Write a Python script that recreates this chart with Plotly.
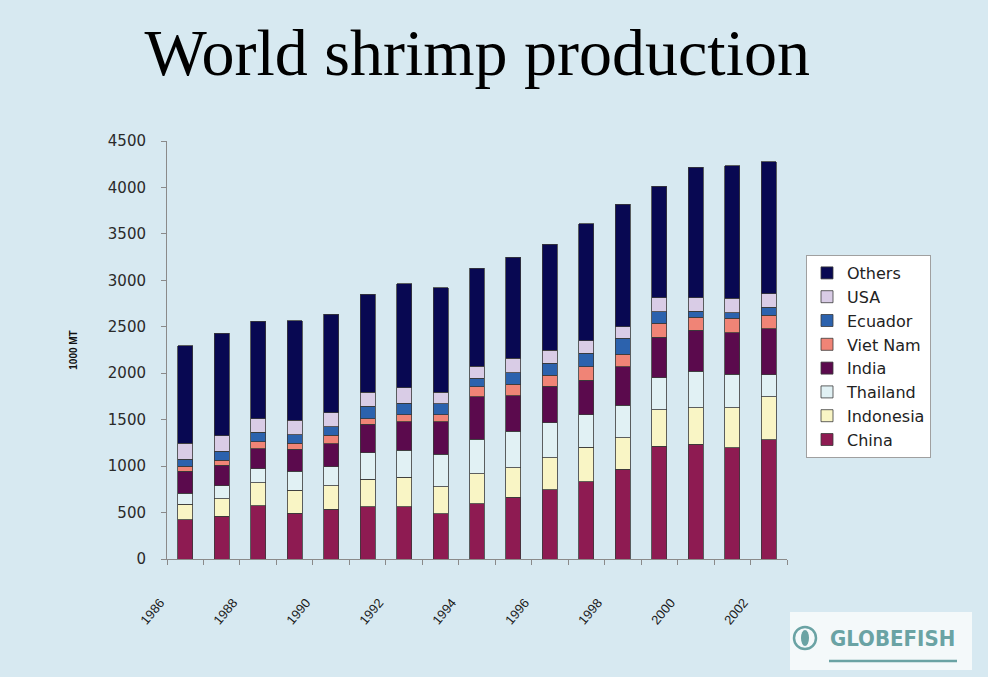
import plotly.graph_objects as go

years = list(range(1986, 2003))
china     = [425, 460, 575, 495, 535, 560, 565, 485, 595, 665, 745, 830, 965, 1215, 1235, 1200, 1285]
indonesia = [165, 190, 245, 245, 255, 300, 315, 295, 325, 320, 345, 375, 340, 390, 395, 430, 460]
thailand  = [120, 140, 150, 205, 205, 285, 290, 350, 370, 390, 375, 350, 350, 345, 390, 360, 240]
india     = [235, 220, 215, 235, 245, 305, 305, 350, 455, 380, 395, 370, 415, 440, 440, 445, 495]
vietnam   = [55, 55, 80, 65, 90, 60, 80, 75, 110, 125, 120, 145, 135, 150, 145, 155, 145]
ecuador   = [75, 95, 100, 95, 95, 135, 120, 115, 90, 125, 125, 145, 170, 120, 60, 60, 85]
usa       = [170, 165, 145, 155, 150, 150, 170, 125, 130, 155, 145, 135, 125, 150, 150, 155, 145]
others    = [1050, 1105, 1050, 1070, 1060, 1055, 1120, 1125, 1055, 1090, 1140, 1260, 1320, 1205, 1400, 1430, 1420]

series = [
    ("China", china, "#8e1b52"),
    ("Indonesia", indonesia, "#f9f5c5"),
    ("Thailand", thailand, "#e1f1f4"),
    ("India", india, "#5b0a4d"),
    ("Viet Nam", vietnam, "#f08476"),
    ("Ecuador", ecuador, "#2c62ad"),
    ("USA", usa, "#d9cce6"),
    ("Others", others, "#080852"),
]
tick_years = list(range(1986, 2003, 2))

fig = go.Figure()
for name, vals, col in series:
    fig.add_trace(go.Bar(
        x=years, y=vals, name=name,
        marker=dict(color=col, line=dict(color="#3a3a3a", width=0.8)),
    ))

bg = "#d7e9f1"
L, R, T, B = 167, 201, 141, 118
W, H = 988, 677
pw, ph = W - L - R, H - T - B

def px(x):
    return (x - L) / pw

def py(y):
    return (H - B - y) / ph

fig.update_layout(
    width=W, height=H,
    margin=dict(l=L, r=R, t=T, b=B),
    paper_bgcolor=bg, plot_bgcolor=bg,
    barmode="stack", bargap=0.59,
    title=dict(text="World shrimp production", x=0.483, xanchor="center",
               y=0.923, yanchor="middle", yref="container",
               font=dict(family="Liberation Serif", size=66, color="#000000")),
    legend=dict(x=px(806), y=py(255), xanchor="left", yanchor="top",
                bgcolor="#ffffff", bordercolor="#a0a0a0", borderwidth=1,
                traceorder="reversed",
                font=dict(family="DejaVu Sans", size=16, color="#222222")),
    xaxis=dict(range=[1985.5, 2002.5], tickmode="array", tickvals=tick_years,
               ticktext=[str(y) for y in tick_years], ticks="",
               tickangle=-50, showgrid=False, zeroline=False,
               showline=True, linecolor="#8a8a8a", linewidth=1,
               ticklabelshift=-25, ticklabelstandoff=30,
               tickfont=dict(family="Liberation Sans", size=13, color="#1a1a1a"),
               minor=dict(tickmode="linear", tick0=1985.5, dtick=1, ticks="outside",
                          ticklen=5, tickcolor="#8a8a8a", showgrid=False)),
    yaxis=dict(range=[0, 4500], dtick=500, ticks="outside", ticklen=5,
               tickcolor="#8a8a8a", showgrid=False, zeroline=False,
               showline=True, linecolor="#8a8a8a", linewidth=1,
               ticklabelstandoff=12,
               tickfont=dict(family="DejaVu Sans", size=15, color="#2a2a2a"),
               title=dict(text="<b>1000 MT</b>", standoff=28,
                          font=dict(family="Liberation Sans", size=10, color="#111111"))),
    font=dict(family="Liberation Sans"),
)

# GLOBEFISH logo box
logo_col = "#6aa3a4"
fig.add_shape(type="rect", xref="paper", yref="paper",
              x0=px(790), x1=px(972), y0=py(612), y1=py(670),
              fillcolor="#f4f9fa", line=dict(width=0), layer="above")
fig.add_shape(type="circle", xref="paper", yref="paper",
              x0=px(794), x1=px(816), y0=py(627), y1=py(649),
              fillcolor="#f4f9fa", line=dict(color=logo_col, width=2.5))
fig.add_shape(type="circle", xref="paper", yref="paper",
              x0=px(801), x1=px(809), y0=py(630), y1=py(646),
              fillcolor=logo_col, line=dict(width=0))
fig.add_shape(type="line", xref="paper", yref="paper",
              x0=px(829), x1=px(957), y0=py(661), y1=py(661),
              line=dict(color=logo_col, width=2.5))
fig.add_annotation(text="<b>GLOBEFISH</b>", xref="paper", yref="paper",
                   x=px(892), y=py(638), xanchor="center", yanchor="middle",
                   showarrow=False,
                   font=dict(family="DejaVu Sans Condensed, Liberation Sans Narrow, Liberation Sans",
                             size=22, color=logo_col))

fig.write_html("out.html")
